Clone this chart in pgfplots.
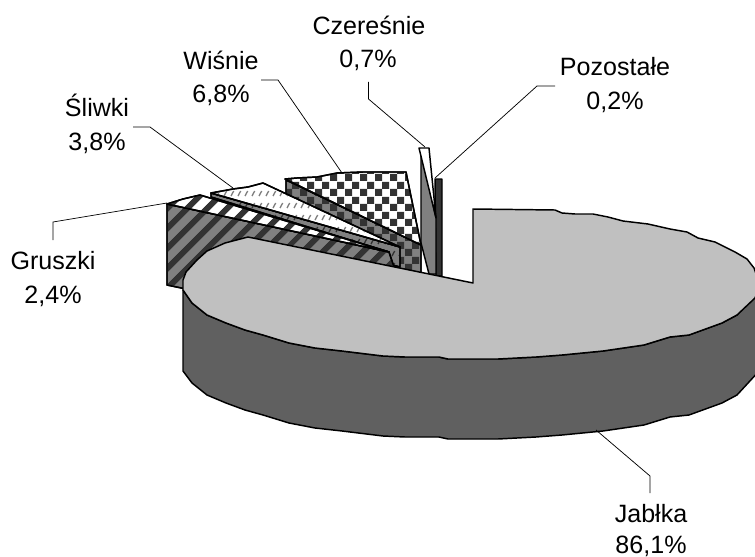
\documentclass[border=0pt]{standalone}
\usepackage{fontspec}
\setmainfont{Liberation Sans}
\usepackage{pgfplots}
\pgfplotsset{compat=1.18}
\usetikzlibrary{patterns,patterns.meta}

\definecolor{topgray}{HTML}{C0C0C0}
\definecolor{sidegray}{HTML}{606060}
\definecolor{midgray}{HTML}{808080}
\definecolor{darkc}{HTML}{333333}

% checker, 15 px period
\pgfdeclarepatternformonly{bigchecks}{\pgfqpoint{0pt}{0pt}}{\pgfqpoint{11.25pt}{11.25pt}}{\pgfqpoint{11.25pt}{11.25pt}}{
  \pgfpathrectangle{\pgfqpoint{0pt}{0pt}}{\pgfqpoint{5.625pt}{5.625pt}}
  \pgfpathrectangle{\pgfqpoint{5.625pt}{5.625pt}}{\pgfqpoint{5.625pt}{5.625pt}}
  \pgfusepath{fill}
}
% short slanted strokes
\pgfdeclarepatternformonly{flecks}{\pgfqpoint{-1pt}{-1pt}}{\pgfqpoint{4.25pt}{8pt}}{\pgfqpoint{5.25pt}{9pt}}{
  \pgfsetlinewidth{1pt}
  \pgfpathmoveto{\pgfqpoint{0pt}{0pt}}
  \pgfpathlineto{\pgfqpoint{2pt}{3.75pt}}
  \pgfusepath{stroke}
}

\pgfplotsset{
  piece/.style={draw=black, line width=1.1pt, line join=round},
  leader/.style={draw=black, line width=0.55pt},
  stripes/.style={postaction={pattern={Lines[angle=45,distance=10.5pt,line width=4.5pt]}, pattern color=#1}},
}
\tikzset{lab/.style={anchor=base, inner sep=0pt, font=\fontsize{18.8}{22}\selectfont}}

\begin{document}
\begin{tikzpicture}
\useasboundingbox (0,0) rectangle (566.25pt,417pt);
\begin{axis}[scale only axis, width=566.25pt, height=417pt,
  xmin=0, xmax=755, ymin=0, ymax=556, y dir=reverse,
  axis lines=none, ticks=none]

% Pozostale
\addplot[piece, fill=darkc] coordinates {(435,179) (442,179) (442,276) (436,276)} -- cycle;
% Czeresnie
\addplot[piece, fill=midgray] coordinates {(421,150) (421,243) (429,274) (436,274) (436,218)} -- cycle;
\addplot[piece, fill=white] coordinates {(419,148) (429,148) (436,218)} -- cycle;
% Wisnie
\addplot[piece, fill=midgray, postaction={pattern=bigchecks, pattern color=darkc}]
  coordinates {(286,180) (286,200) (400,282) (421,282) (421,245)} -- cycle;
\addplot[piece, fill=white, postaction={pattern=bigchecks, pattern color=darkc}]
  coordinates {(285,179) (297,178) (317,177) (337,173) (363,172) (406,172) (421,245)} -- cycle;
% Sliwki
\addplot[piece, fill=midgray, postaction={pattern=flecks, pattern color=darkc}]
  coordinates {(211,193) (211,197) (389,252) (389,264) (400,267) (400,247)} -- cycle;
\addplot[piece, fill=white, postaction={pattern=flecks, pattern color=midgray}]
  coordinates {(211,193) (222,191) (233,189) (248,187) (263,183) (400,247)} -- cycle;
% Gruszki
\addplot[piece, fill=midgray, stripes=darkc]
  coordinates {(167,204) (167,285) (186,289) (400,285) (389,252)} -- cycle;
\addplot[piece, fill=white, stripes=darkc]
  coordinates {(167,204) (183,199) (200,195) (389,252)} -- cycle;
% Jablka, side
\addplot[piece, fill=sidegray] coordinates {
  (183,290) (192,303) (207,315) (226,323) (245,330) (263,335) (289,343) (315,348)
  (342,351) (383,356) (405,357) (439,357) (448,359) (498,359) (536,357) (562,355)
  (603,351) (644,345) (670,337) (689,335) (722,323) (737,315) (760,290)
  (760,370) (737,395) (722,403) (689,415) (670,417) (644,425) (603,431)
  (562,435) (536,437) (498,439) (448,439) (439,437) (405,437) (383,436) (342,431)
  (315,428) (289,423) (263,415) (245,410) (226,403) (207,395) (192,383) (183,371)} -- cycle;
% Jablka, top
\addplot[piece, fill=topgray] coordinates {
  (473,283) (473,209) (555,210) (562,213) (575,214) (593,214) (608,217) (623,221)
  (648,224) (670,229) (687,232) (698,238) (715,242) (735,252) (747,259) (754,268)
  (760,285) (755,298) (737,315) (722,323) (689,335) (670,337) (644,345) (603,351)
  (562,355) (536,357) (498,359) (448,359) (439,357) (405,357) (383,356) (342,351)
  (315,348) (289,343) (263,335) (245,330) (226,323) (207,315) (192,303) (183,290)
  (183,280) (186,272) (197,260) (207,251) (225,243) (248,237)} -- cycle;

% leader lines
\addplot[leader] coordinates {(368.5,82) (368.5,99) (425,147)};
\addplot[leader] coordinates {(555,86) (537,86) (435,178)};
\addplot[leader] coordinates {(261,80) (278,80) (342,173)};
\addplot[leader] coordinates {(133,127) (150,127) (233,188)};
\addplot[leader] coordinates {(53,240) (53,222) (167,203)};
\addplot[leader] coordinates {(650,493) (650,476) (596,430)};

\node[lab] at (axis cs:369,35) {Czereśnie};
\node[lab] at (axis cs:368,68) {0,7\%};
\node[lab] at (axis cs:615,76) {Pozostałe};
\node[lab] at (axis cs:615,109) {0,2\%};
\node[lab] at (axis cs:221,70) {Wiśnie};
\node[lab] at (axis cs:221,103) {6,8\%};
\node[lab] at (axis cs:97,117) {Śliwki};
\node[lab] at (axis cs:97,150) {3,8\%};
\node[lab] at (axis cs:53,269) {Gruszki};
\node[lab] at (axis cs:53,303) {2,4\%};
\node[lab] at (axis cs:651,522) {Jabłka};
\node[lab] at (axis cs:651,553) {86,1\%};
\end{axis}
\end{tikzpicture}
\end{document}
